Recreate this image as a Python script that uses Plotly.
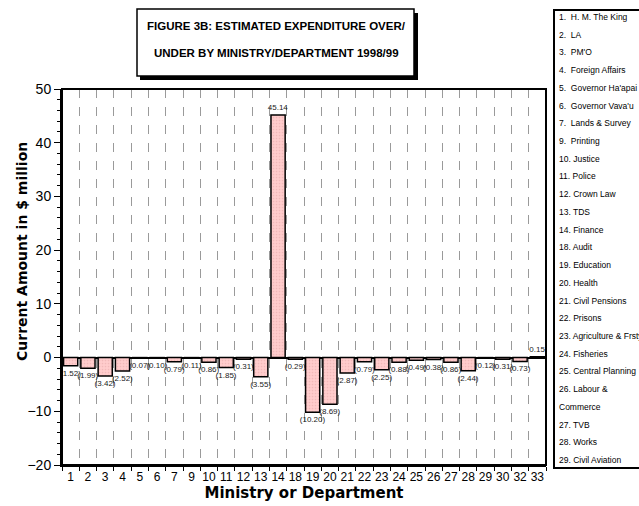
import plotly.graph_objects as go

# ---- data ----
categories = ["1", "2", "3", "4", "5", "6", "7", "9", "10", "11", "12", "13", "14",
              "18", "19", "20", "21", "22", "23", "24", "25", "26", "27", "28", "29",
              "30", "32", "33"]
values = [-1.52, -1.99, -3.42, -2.52, -0.07, -0.10, -0.79, -0.11, -0.86, -1.85, -0.31,
          -3.55, 45.14, -0.29, -10.20, -8.69, -2.87, -0.79, -2.25, -0.88, -0.49, -0.38,
          -0.86, -2.44, -0.12, -0.31, -0.73, 0.15]
legend_lines = ["1.  H. M. The King", "2.  LA", "3.  PM'O", "4.  Foreign Affairs",
                "5.  Governor Ha'apai", "6.  Governor Vava'u", "7.  Lands & Survey",
                "9.  Printing", "10. Justice", "11. Police", "12. Crown Law", "13. TDS",
                "14. Finance", "18. Audit", "19. Education", "20. Health",
                "21. Civil Pensions", "22. Prisons", "23. Agriculture & Frsty",
                "24. Fisheries", "25. Central Planning", "26. Labour &", "Commerce",
                "27. TVB", "28. Works", "29. Civil Aviation"]
title_line1 = "FIGURE 3B: ESTIMATED EXPENDITURE OVER/"
title_line2 = "UNDER BY MINISTRY/DEPARTMENT 1998/99"
y_title = "Current Amount in $ million"
x_title = "Ministry or Department"

labels = [f"({abs(v):.2f})" if v < 0 else f"{v:.2f}" for v in values]

W, H = 639, 506
L, R, T, B = 62, 546, 89, 465


def px(p):
    return (p - L) / (R - L)


def py(p):
    return (B - p) / (B - T)


ARIAL = "Liberation Sans, Arial, sans-serif"
HEAVY = "DejaVu Sans, sans-serif"

fig = go.Figure()
fig.add_trace(go.Bar(
    x=categories, y=values, width=0.82,
    marker=dict(color="#FFCCCC", line=dict(color="black", width=1.5),
                pattern=dict(shape=".", fgcolor="#E4A6A6", size=3, solidity=0.25)),
    text=labels, textposition="outside", constraintext="none", cliponaxis=False,
    textfont=dict(family=ARIAL, size=8, color="#222"),
    hoverinfo="skip",
))

fig.update_layout(
    width=W, height=H,
    margin=dict(l=L, r=W - R, t=T, b=H - B),
    paper_bgcolor="white", plot_bgcolor="white",
    showlegend=False, bargap=0.18,
    font=dict(family=ARIAL, color="black"),
)
fig.update_xaxes(
    type="category", tickson="boundaries", ticks="outside", ticklen=4,
    tickcolor="black", tickwidth=1, tickangle=0, automargin=False,
    showgrid=True, gridcolor="#9a9a9a", gridwidth=1, griddash="9px,9px",
    showline=True, linecolor="black", linewidth=2,
    tickfont=dict(family=ARIAL, size=12, color="black"),
    title=dict(text=x_title, standoff=2,
               font=dict(family=HEAVY, size=15, color="black", weight="bold")),
)
fig.update_yaxes(
    range=[-20, 50], tickvals=[-20, -10, 0, 10, 20, 30, 40, 50],
    ticks="outside", ticklen=6, tickcolor="black", tickwidth=1, automargin=False,
    minor=dict(ticks="outside", ticklen=3, dtick=2, tickcolor="black", showgrid=False),
    showgrid=False, zeroline=True, zerolinecolor="black", zerolinewidth=1.5,
    showline=True, linecolor="black", linewidth=2,
    tickfont=dict(family=ARIAL, size=14, color="black"),
)

shapes = []
# plot frame
shapes.append(dict(type="rect", xref="paper", yref="paper", x0=0, x1=1, y0=0, y1=1,
                   line=dict(color="black", width=2), fillcolor="rgba(0,0,0,0)", layer="above"))
# title box shadow + box
shapes.append(dict(type="rect", xref="paper", yref="paper",
                   x0=px(140), x1=px(418), y0=py(80), y1=py(13),
                   line=dict(width=0), fillcolor="black"))
shapes.append(dict(type="rect", xref="paper", yref="paper",
                   x0=px(137), x1=px(414), y0=py(76), y1=py(9),
                   line=dict(color="black", width=1.5), fillcolor="white"))
# legend box
shapes.append(dict(type="rect", xref="paper", yref="paper",
                   x0=px(554), x1=px(645), y0=py(468), y1=py(10),
                   line=dict(color="black", width=2), fillcolor="white"))
fig.update_layout(shapes=shapes)

ann = []
ann.append(dict(text=title_line1, xref="paper", yref="paper", x=px(276), y=py(26),
                showarrow=False, xanchor="center", yanchor="middle",
                font=dict(family=ARIAL, size=11.5, color="black", weight="bold")))
ann.append(dict(text=title_line2, xref="paper", yref="paper", x=px(276), y=py(53),
                showarrow=False, xanchor="center", yanchor="middle",
                font=dict(family=ARIAL, size=11.5, color="black", weight="bold")))
ann.append(dict(text=y_title, xref="paper", yref="paper", x=px(22), y=py(252),
                showarrow=False, xanchor="center", yanchor="middle", textangle=-90,
                font=dict(family=HEAVY, size=14, color="black", weight="bold")))
step = (460 - 17) / (len(legend_lines) - 1)
for i, t in enumerate(legend_lines):
    ann.append(dict(text=t, xref="paper", yref="paper", x=px(557), y=py(17 + i * step),
                    showarrow=False, xanchor="left", yanchor="middle",
                    font=dict(family=ARIAL, size=8.5, color="black")))
fig.update_layout(annotations=ann)

fig.write_html("out.html", config={"displayModeBar": False},
               post_script="document.body.style.margin='0';document.body.style.padding='0';")
